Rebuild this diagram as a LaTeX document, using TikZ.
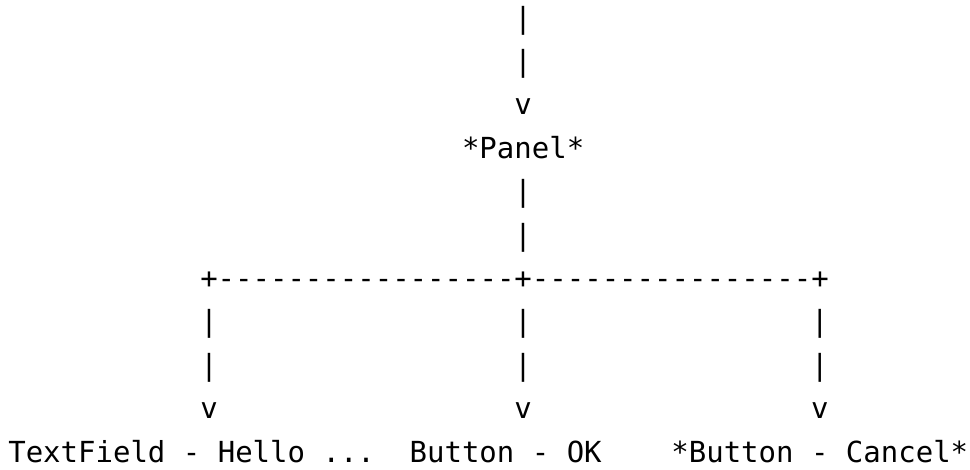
\documentclass[tikz,border=0pt]{standalone}
\usepackage{fontspec}
\setmonofont{DejaVu Sans Mono}
\begin{document}
\begin{tikzpicture}[
  ascii/.style={inner sep=0pt, outer sep=0pt, anchor=base west,
    font=\ttfamily\fontsize{29}{35}\selectfont, text=black},
  leaf/.style={ascii}
]
\useasboundingbox (0pt,0pt) rectangle (970pt,-469pt);
\begin{scope}[shift={(8.3pt,-28pt)}, x=17.45pt, y=-43.4pt]
  % incoming edge to Panel
  \node[ascii] (inA) at (29,0) {|};
  \node[ascii] (inB) at (29,1) {|};
  \node[ascii] (inV) at (29,2) {v};
  % Panel
  \node[ascii] (panel) at (26,3) {*Panel*};
  \node[ascii] (pA) at (29,4) {|};
  \node[ascii] (pB) at (29,5) {|};
  % branch bar
  \node[ascii] (bar) at (11,6) {+-----------------+----------------+};
  % left branch
  \node[ascii] (lA) at (11,7) {|};
  \node[ascii] (lB) at (11,8) {|};
  \node[ascii] (lV) at (11,9) {v};
  % middle branch
  \node[ascii] (mA) at (29,7) {|};
  \node[ascii] (mB) at (29,8) {|};
  \node[ascii] (mV) at (29,9) {v};
  % right branch
  \node[ascii] (rA) at (46,7) {|};
  \node[ascii] (rB) at (46,8) {|};
  \node[ascii] (rV) at (46,9) {v};
  % children
  \node[leaf] (textfield) at (0,10) {TextField - Hello ...};
  \node[leaf] (ok) at (23,10) {Button - OK};
  \node[leaf] (cancel) at (38,10) {*Button - Cancel*};
\end{scope}
\end{tikzpicture}
\end{document}
